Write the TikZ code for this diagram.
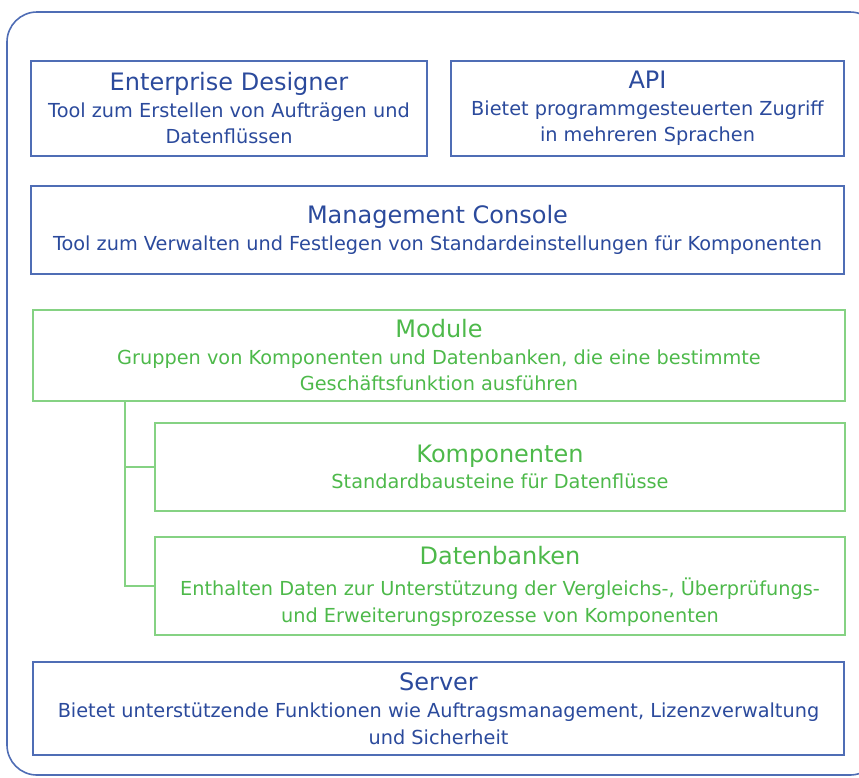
\documentclass[tikz,border=0pt]{standalone}
\usepackage{fontspec}
\setmainfont{DejaVu Sans}
\usetikzlibrary{positioning}

\definecolor{spblue}{HTML}{2B4A9C}
\definecolor{spblueline}{HTML}{4F6DB5}
\definecolor{spgreen}{HTML}{4DB94A}
\definecolor{spgreenline}{HTML}{85D283}

\newcommand{\boxtitle}[1]{{\fontsize{24}{28}\selectfont #1}}

\begin{document}
\begin{tikzpicture}[x=1pt, y=-1pt,
  every node/.style={font=\fontsize{19.3}{26.5}\selectfont, align=center, inner sep=0pt},
  bluebox/.style={draw=spblueline, line width=1.8pt, text=spblue},
  greenbox/.style={draw=spgreenline, line width=1.8pt, text=spgreen},
  gline/.style={draw=spgreenline, line width=1.8pt}]
\clip (0,0) rectangle (859,777);

%outer frame
\draw[spblueline, line width=1.6pt, rounded corners=30pt] (7,12) rectangle (880,775);

%top row
\node[bluebox, minimum width=396pt, minimum height=95pt] (designer) at (229,108.5)
  {\boxtitle{Enterprise Designer}\\Tool zum Erstellen von Aufträgen und\\Datenflüssen};
\node[bluebox, minimum width=393pt, minimum height=95pt] (api) at (647.5,108.5)
  {\boxtitle{API}\\Bietet programmgesteuerten Zugriff\\in mehreren Sprachen};

%console
\node[bluebox, minimum width=813pt, minimum height=88pt] (console) at (437.5,230)
  {\boxtitle{Management Console}\\Tool zum Verwalten und Festlegen von Standardeinstellungen für Komponenten};

%modules
\node[greenbox, minimum width=812pt, minimum height=91pt] (module) at (439,355.5)
  {\boxtitle{Module}\\Gruppen von Komponenten und Datenbanken, die eine bestimmte\\Geschäftsfunktion ausführen};
\node[greenbox, minimum width=690pt, minimum height=88pt] (komponenten) at (500,467)
  {\boxtitle{Komponenten}\\Standardbausteine für Datenflüsse};
\node[greenbox, minimum width=690pt, minimum height=98pt] (datenbanken) at (500,586)
  {\boxtitle{Datenbanken}\\[5pt]Enthalten Daten zur Unterstützung der Vergleichs-, Überprüfungs-\\und Erweiterungsprozesse von Komponenten};

%server
\node[bluebox, minimum width=811pt, minimum height=93pt] (server) at (438.5,708.5)
  {\boxtitle{Server}\\[1pt]Bietet unterstützende Funktionen wie Auftragsmanagement, Lizenzverwaltung\\und Sicherheit};

%tree
\coordinate (trunk) at (module.south -| 125,0);
\draw[gline] (trunk) |- (komponenten.west);
\draw[gline] (trunk) |- (datenbanken.west);
\end{tikzpicture}
\end{document}
